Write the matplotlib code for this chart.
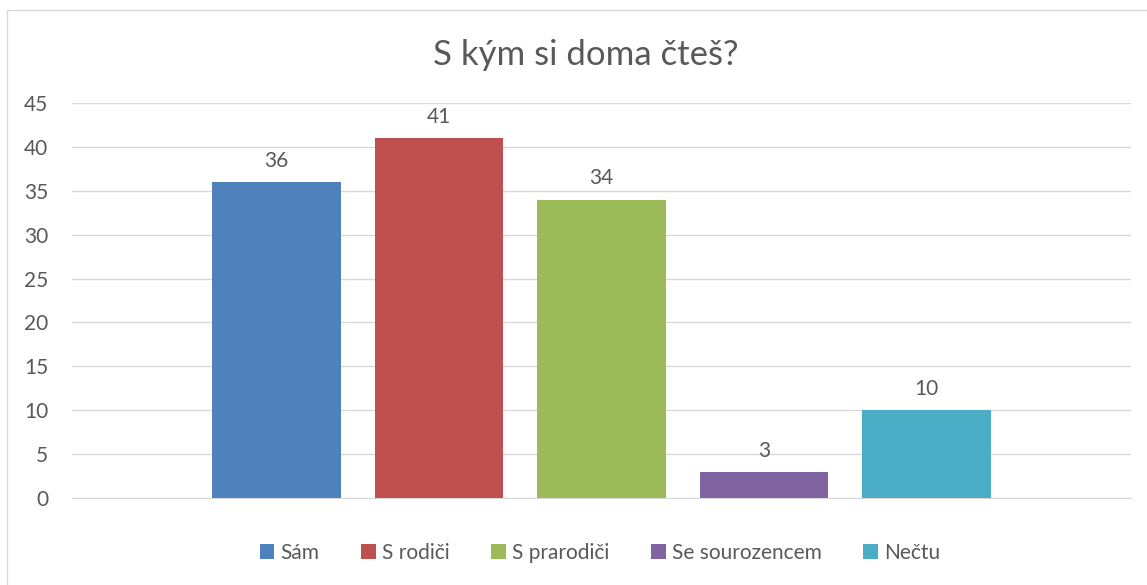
import matplotlib.pyplot as plt
from matplotlib.patches import Rectangle

categories = ['Sám', 'S rodiči', 'S prarodiči', 'Se sourozencem', 'Nečtu']
values = [36, 41, 34, 3, 10]
colors = ['#4F81BD', '#C0504D', '#9BBB59', '#8064A2', '#4BACC6']
title = 'S kým si doma čteš?'

plt.rcParams['font.family'] = ['Lato', 'DejaVu Sans']
text_color = '#595959'

fig = plt.figure(figsize=(11.47, 5.85), dpi=100)
ax = fig.add_axes([72 / 1147, 1 - 498 / 585, (1131 - 72) / 1147, (498 - 103) / 585])

# rámeček grafu
fig.patches.append(Rectangle((7 / 1147, -0.1), 1.2, 1 - 10 / 585 + 0.1,
                             transform=fig.transFigure, fill=False,
                             edgecolor='#D9D9D9', linewidth=1))

for i, (v, c, lab) in enumerate(zip(values, colors, categories)):
    ax.bar(i, v, width=0.79, color=c, label=lab, zorder=3)
    ax.annotate(str(v), (i, v), xytext=(0, 8), textcoords='offset points',
                ha='center', va='bottom', fontsize=15, color=text_color)

half = 1059 / 162.5 / 2
ax.set_xlim(2 - half, 2 + half)
ax.set_ylim(0, 45)
ax.set_yticks(range(0, 46, 5))
ax.set_xticks([])
ax.grid(axis='y', color='#D9D9D9', linewidth=1, zorder=0)
for s in ['top', 'right', 'left']:
    ax.spines[s].set_visible(False)
ax.spines['bottom'].set_color('#D9D9D9')
ax.tick_params(axis='y', length=0, pad=17, labelsize=15, labelcolor=text_color)

fig.text(586 / 1147, 1 - 55 / 585, title, ha='center', va='center',
         fontsize=25, color=text_color)

fig.legend(loc='center', bbox_to_anchor=(600 / 1147, 1 - 553 / 585), ncol=5,
           frameon=False, fontsize=15, labelcolor=text_color,
           handlelength=0.7, handleheight=0.7, handletextpad=0.3, columnspacing=2.0)

fig.savefig('out.png', dpi=100)
